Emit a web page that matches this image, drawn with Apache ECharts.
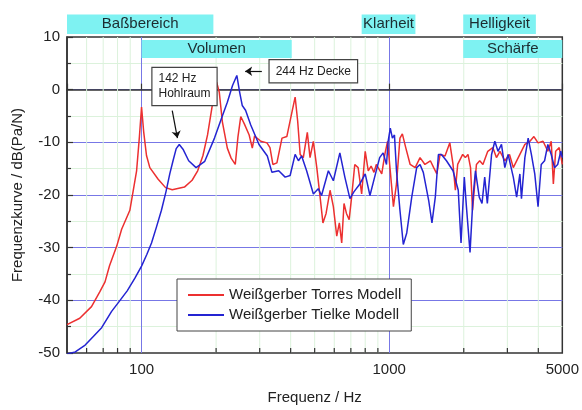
<!DOCTYPE html>
<html>
<head>
<meta charset="utf-8">
<script src="https://cdn.jsdelivr.net/npm/echarts@6/dist/echarts.min.js"></script>
<style>
  html, body { margin: 0; padding: 0; background: #fff; }
  #chart { width: 582px; height: 410px; }
</style>
</head>
<body>
<div id="chart"></div>
<script>
// Weißgerber Torres Modell
const torresFreq = [50, 56.3, 62.8, 67.8, 71.2, 74.3, 79.4, 83.1, 89.7, 95.5, 98, 100, 102, 104.7, 108, 116.7, 125, 133, 149, 160,
  168.5, 177, 184.7, 195, 201, 206, 212, 222, 230, 239, 245, 251.5, 260, 272, 280, 286, 303, 321, 330, 339,
  352, 369, 386, 405, 417, 427, 437, 450, 467, 479, 494, 510, 526, 540, 556, 577, 595, 614, 629, 643,
  657, 672, 689, 705, 726, 749, 774, 800, 823, 845, 868, 887, 933, 960, 985, 1007, 1040, 1070, 1105, 1130,
  1166, 1215, 1273, 1332, 1394, 1466, 1512, 1557, 1605, 1680, 1757, 1810, 1850, 1890, 1980, 2030, 2080, 2130, 2170, 2250,
  2320, 2390, 2500, 2620, 2710, 2800, 2930, 3060, 3170, 3370, 3530, 3700, 3840, 3990, 4180, 4370, 4510, 4600, 4700, 4860, 5000];
const torresDb = [-44.6, -43.4, -41.2, -38.4, -36.5, -33.4, -29.7, -26.5, -22.9, -15.4, -9, -3.3, -8, -12.5, -14.8, -17, -18.6, -19, -18.5, -17.2,
  -15.4, -12.5, -8.6, -1.7, 1.4, -0.5, -6.1, -11.1, -13, -14.2, -9, -5.1, -6.5, -8.6, -11.1, -8.8, -9.8, -10.1, -11, -14.2,
  -13.9, -9.2, -8.9, -4.2, -1.4, -6, -12.3, -12.9, -8.1, -12.9, -9.8, -14.8, -20.4, -25.3, -23.5, -19.1, -22.2, -27.8, -25.3, -29.1,
  -21.6, -23.5, -24.7, -20.4, -14.2, -14.8, -19.8, -11.7, -15.4, -14.5, -15.7, -14.2, -16, -12.3, -9.8, -14.8, -22.2, -17.9, -9.2, -8.4,
  -11, -14.2, -14.8, -12.9, -14.2, -13.5, -14.8, -16, -12.3, -12.6, -10.1, -14.2, -19.1, -14.2, -12.3, -12.9, -12.3, -14.8, -22.9, -14.2,
  -13.5, -14.2, -11.7, -11, -12.9, -11.7, -13.5, -12.3, -14.8, -12.3, -10.4, -9.8, -8.9, -10.1, -9.8, -11.7, -9.8, -17.9, -11.7, -11, -14.2];

// Weißgerber Tielke Modell
const tielkeFreq = [50, 54, 59.2, 64, 69, 75.7, 81, 87.5, 94, 100, 105, 109.7, 115, 120.3, 125.6, 130, 134, 138, 142, 147,
  155, 166, 180, 197, 210, 222, 233, 242.5, 249, 255, 263, 276, 298, 322, 336, 358, 380, 398, 417, 430,
  443, 464, 494, 517, 533, 568, 595, 632, 662, 694, 720, 761, 800, 836, 880, 915, 945, 975, 990, 1010,
  1030, 1050, 1070, 1105, 1140, 1177, 1233, 1291, 1332, 1373, 1443, 1488, 1535, 1580, 1625, 1703, 1810, 1900, 1950, 2010,
  2050, 2120, 2180, 2230, 2310, 2370, 2430, 2490, 2590, 2670, 2750, 2840, 2930, 3020, 3170, 3270, 3370, 3420, 3530, 3640,
  3750, 3870, 3990, 4110, 4240, 4370, 4510, 4650, 4790, 4930, 5000];
const tielkeDb = [-50.2, -49.8, -48.5, -46.8, -45.2, -42.1, -40.3, -38.2, -35.8, -33.5, -31.3, -29.1, -26, -22.9, -19.3, -16, -13.5, -11.2, -10.4, -11.3,
  -13.5, -14.8, -13.6, -9.2, -5.5, -2.4, 0.8, 2.7, -0.5, -3, -3.9, -6.7, -10.4, -12.6, -15.7, -15.4, -16.6, -16.3, -12.3, -13.5,
  -12.6, -15.4, -19.8, -18.8, -20.1, -15.4, -17.3, -12, -16.6, -20.7, -19.4, -17.9, -16, -20.1, -16, -12.9, -12, -14.2, -9.8, -7.3,
  -9.2, -8.6, -15.4, -22.9, -29.4, -27.2, -20.4, -14.8, -14.2, -15.7, -21, -25.3, -20.4, -12.3, -12.3, -13.5, -15.4, -19.1, -29.1, -16.6,
  -22.2, -30.9, -20.4, -15.4, -20.4, -21.6, -16.6, -21.6, -12.3, -9.8, -11.7, -10.4, -14.8, -12.3, -16.6, -20.4, -16, -20.7, -12.9, -9.2,
  -12.3, -16, -22.2, -14.2, -13.5, -10.4, -12.3, -14.8, -14.2, -11.7, -12.9];

const xMinorTicks = [60, 70, 80, 90, 200, 300, 400, 500, 600, 700, 800, 900, 2000, 3000, 4000];

// frequency bands (Hz), row 0 = above plot, row 1 = inside top
const bandNames = ['Baßbereich', 'Volumen', 'Klarheit', 'Helligkeit', 'Schärfe'];
const bandFrom = [50, 100, 774, 1990, 1990];
const bandTo = [195, 404, 1276, 3910, 5000];
const bandRow = [0, 1, 0, 0, 1];

const notes = ['142 Hz\nHohlraum', '244 Hz Decke'];
const noteAt = [[110.7, 0.6], [329, 3.5]];
const arrows = [[[133, -4], [139.6, -9.2]], [[306, 3.5], [262, 3.5]]];

const font = 'Liberation Sans, Arial, sans-serif';
const rowY = [[10.56, 14.29], [6.0, 9.44]];

const zip = (xs, ys) => xs.map((x, i) => [x, ys[i]]);

const myChart = echarts.init(document.getElementById('chart'));
const option = {
  animation: false,
  backgroundColor: '#fff',
  textStyle: { fontFamily: font },
  grid: {
    left: 67, right: 17, top: 37, bottom: 51,
    show: true, borderColor: '#333', borderWidth: 1.5, backgroundColor: '#fff'
  },
  legend: {
    data: ['Weißgerber Torres Modell', 'Weißgerber Tielke Modell'],
    orient: 'vertical',
    left: 177, top: 279,
    padding: [8, 10, 8, 10],
    itemWidth: 36, itemHeight: 16, itemGap: 4,
    itemStyle: { opacity: 0 },  // hide the symbol, keep the line
    backgroundColor: '#fff', borderColor: '#444', borderWidth: 1,
    textStyle: { fontSize: 15, color: '#222', lineHeight: 16, fontFamily: font }
  },
  xAxis: {
    type: 'log', logBase: 10, min: 50, max: 5000,
    name: 'Frequenz / Hz', nameLocation: 'middle', nameGap: 37,
    nameTextStyle: { fontSize: 15, color: '#222' },
    axisLine: { lineStyle: { color: '#333', width: 1.5 } },
    axisTick: { inside: true, length: 6, lineStyle: { color: '#333', width: 1.2 } },
    axisLabel: {
      fontSize: 15, color: '#222', margin: 9,
      formatter: v => (v < 60 ? '' : String(Math.round(v)))
    },
    splitLine: { show: true, showMinLine: false, showMaxLine: false, lineStyle: { color: '#7777e6', width: 1 } }
  },
  yAxis: {
    type: 'value', min: -50, max: 10, interval: 10,
    name: 'Frequenzkurve / dB(Pa/N)', nameLocation: 'middle', nameGap: 42,
    nameTextStyle: { fontSize: 15, color: '#222' },
    axisLine: { show: true, lineStyle: { color: '#333', width: 1.5 } },
    axisTick: { inside: true, length: 6, lineStyle: { color: '#333', width: 1.2 } },
    minorTick: { show: true, splitNumber: 2, length: 4, lineStyle: { color: '#333', width: 1.2 } },
    axisLabel: { fontSize: 15, color: '#222', margin: 7 },
    splitLine: { show: true, showMinLine: false, showMaxLine: false, lineStyle: { color: '#7777e6', width: 1 } },
    minorSplitLine: { show: true, lineStyle: { color: '#dcf2dc', width: 1 } }
  },
  series: [
    {
      // minor grid lines and ticks of the log axis
      type: 'custom',
      silent: true,
      z: 1,
      data: xMinorTicks.map(f => [f, -50]),
      encode: { x: 0, y: 1 },
      renderItem: (params, api) => {
        const p = api.coord([api.value(0), -50]);
        const top = params.coordSys.y;
        return {
          type: 'group',
          children: [
            { type: 'line', shape: { x1: p[0], y1: top, x2: p[0], y2: p[1] }, style: { stroke: '#dcf2dc', lineWidth: 1 } },
            { type: 'line', shape: { x1: p[0], y1: p[1], x2: p[0], y2: p[1] - 5 }, style: { stroke: '#333', lineWidth: 1.2 } }
          ]
        };
      }
    },
    {
      name: 'Weißgerber Torres Modell',
      type: 'line',
      symbol: 'none',
      z: 3,
      lineStyle: { color: '#ec3030', width: 1.5 },
      itemStyle: { color: '#ec3030' },
      data: zip(torresFreq, torresDb)
    },
    {
      name: 'Weißgerber Tielke Modell',
      type: 'line',
      symbol: 'none',
      z: 4,
      lineStyle: { color: '#2424d2', width: 1.5 },
      itemStyle: { color: '#2424d2' },
      data: zip(tielkeFreq, tielkeDb)
    },
    {
      // frequency band labels
      type: 'custom',
      silent: true,
      clip: false,
      z: 5,
      data: bandNames.map((n, i) => [bandFrom[i], bandTo[i], bandRow[i]]),
      encode: { x: [0, 1] },
      renderItem: (params, api) => {
        const r = rowY[api.value(2)];
        const a = api.coord([api.value(0), r[1]]);
        const b = api.coord([api.value(1), r[0]]);
        return {
          type: 'rect',
          shape: { x: a[0], y: a[1], width: b[0] - a[0], height: b[1] - a[1] },
          style: { fill: '#7ef2f2' },
          textContent: {
            style: { text: bandNames[params.dataIndex], fill: '#1c2c30', fontSize: 15, fontFamily: font }
          },
          textConfig: { position: 'inside' }
        };
      }
    },
    {
      // annotations
      type: 'line',
      data: [],
      clip: false,
      z: 6,
      markPoint: {
        symbol: 'circle', symbolSize: 0, silent: true,
        label: {
          show: true, position: [0, 0], align: 'left', verticalAlign: 'middle',
          fontSize: 12, lineHeight: 15, color: '#222', fontFamily: font,
          backgroundColor: '#fff', borderColor: '#444', borderWidth: 1.2, padding: [4, 6, 3, 6],
          formatter: p => p.name
        },
        data: notes.map((t, i) => ({ name: t, coord: noteAt[i] }))
      },
      markLine: {
        silent: true,
        symbol: ['none', 'arrow'], symbolSize: 7,
        label: { show: false },
        lineStyle: { color: '#111', width: 1.2, type: 'solid' },
        data: arrows.map(a => [{ coord: a[0] }, { coord: a[1] }])
      }
    }
  ]
};
myChart.setOption(option);
window.addEventListener('resize', function () {
  myChart.resize();
});
</script>
</body>
</html>
